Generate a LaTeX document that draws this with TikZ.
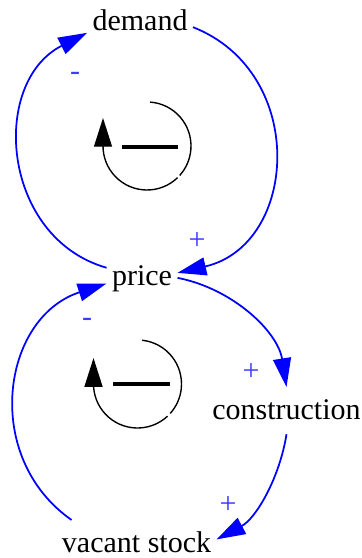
\documentclass[tikz,border=0pt]{standalone}
\usepackage{fontspec}
\setmainfont{Liberation Serif}
\usepackage{tikz}
\usetikzlibrary{arrows.meta}
\usepackage{xcolor}
\definecolor{cldblue}{RGB}{0,0,255}
\definecolor{cldsign}{RGB}{60,60,255}

\begin{document}
\begin{tikzpicture}[x=0.4pt, y=0.4pt,
    var/.style={inner xsep=2pt, inner ysep=3.5pt, text height=9.5pt, text depth=2pt, font=\fontsize{12}{14}\selectfont},
    link/.style={-{Triangle[length=11.5pt, width=7.2pt]}, cldblue, line width=0.7pt},
    sgn/.style={cldsign, inner sep=0pt, font=\fontsize{12}{14}\selectfont},
    loopline/.style={line width=0.55pt},
    looptip/.style={-{Triangle[length=11.5pt, width=7.2pt]}, line width=0.55pt},
    bar/.style={line width=1.3pt}
]
\useasboundingbox (0,0) rectangle (361,-558);

% === Variables ===
\node[var] (demand) at (140,-21.6) {demand};
\node[var] (price) at (142,-276.6) {price};
\node[var] (constr) at (286.5,-410.6) {construction};
\node[var] (vacant) at (136.5,-543.6) {vacant stock};

% === Upper loop: price <-> demand ===
\draw[link] (price.166) to[out=164, in=207, looseness=1.19] (demand.192);
\draw[link] (demand.-6) to[out=-21.5, in=13, looseness=1.29] (price.6);
\node[sgn] (sgnPD) at (75,-76) {-};
\node[sgn] (sgnDP) at (197,-241) {+};

% === Lower loop: price -> construction -> vacant stock -> price ===
\draw[link] (price.-2) to[out=-11, in=99, looseness=0.93] (constr.north);
\draw[link] (constr.south) to[out=-99, in=28, looseness=0.9] (vacant.3);
\draw[link] (vacant.160) to[out=145, in=198, looseness=1.18] (price.191);
\node[sgn] (sgnPC) at (251,-372) {+};
\node[sgn] (sgnCV) at (228,-505) {+};
\node[sgn] (sgnVP) at (87,-322) {-};

% === Loop markers ===
\coordinate (loopA) at (147,-146);
\draw[loopline] (loopA) ++(86:44) arc[start angle=86, end angle=-42, radius=44];
\draw[looptip] (loopA) ++(-46:44) arc[start angle=-46, end angle=-180, radius=44] -- ++(0,28);
\draw[bar] (loopA) ++(-25,-1) -- ++(56,0);

\coordinate (loopB) at (137.5,-384);
\draw[loopline] (loopB) ++(84:44) arc[start angle=84, end angle=-42, radius=44];
\draw[looptip] (loopB) ++(-47:44) arc[start angle=-47, end angle=-180, radius=44] -- ++(0,26);
\draw[bar] (loopB) ++(-24.5,0) -- ++(57,0);

\end{tikzpicture}
\end{document}
